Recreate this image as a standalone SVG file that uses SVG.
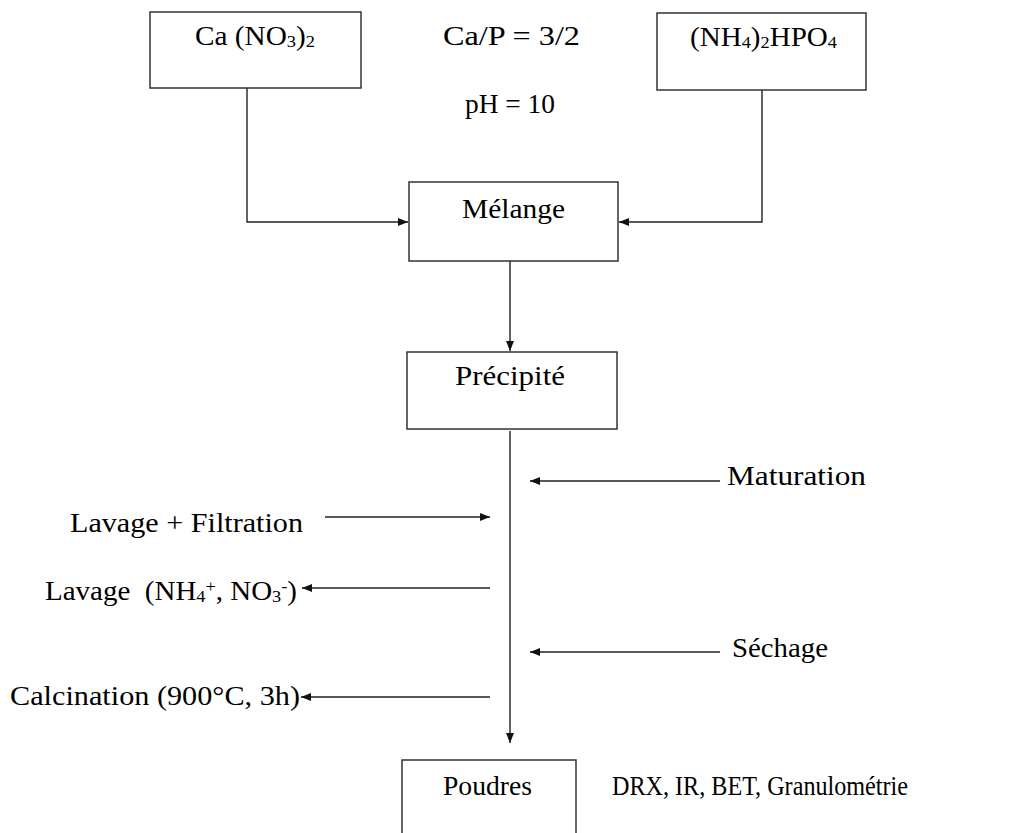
<svg xmlns="http://www.w3.org/2000/svg" width="1012" height="833" viewBox="0 0 1012 833">
<defs>
<style>
.box{fill:#fff;stroke:#333;stroke-width:1.5}
.ln{fill:none;stroke:#222;stroke-width:1.4}
text{font-family:"Liberation Serif","DejaVu Serif",serif;font-size:27px;fill:#000}
.sub{font-size:17px}
</style>
<marker id="ah" viewBox="0 0 10 8" refX="10" refY="4" markerWidth="10" markerHeight="8" markerUnits="userSpaceOnUse" orient="auto">
<path d="M0,0 L10,4 L0,8 Z" fill="#111"/>
</marker>
</defs>
<rect width="1012" height="833" fill="#fff"/>
<g id="connectors">
<path class="ln" d="M247,88 V222 H408" marker-end="url(#ah)"/>
<path class="ln" d="M762,90 V222 H619" marker-end="url(#ah)"/>
<path class="ln" d="M510,261 V351" marker-end="url(#ah)"/>
<path class="ln" d="M510,431 V743" marker-end="url(#ah)"/>
<path class="ln" d="M720,481 H530" marker-end="url(#ah)"/>
<path class="ln" d="M325,517 H490" marker-end="url(#ah)"/>
<path class="ln" d="M490,588 H302" marker-end="url(#ah)"/>
<path class="ln" d="M720,652 H530" marker-end="url(#ah)"/>
<path class="ln" d="M490,697 H301" marker-end="url(#ah)"/>
</g>
<g id="node-cano3">
<rect class="box" x="150" y="12" width="211" height="76"/>
<text x="195" y="45" textLength="120" lengthAdjust="spacingAndGlyphs">Ca (NO<tspan class="sub" dy="2">3</tspan><tspan dy="-2">)</tspan><tspan class="sub" dy="2">2</tspan></text>
</g>
<g id="node-conditions">
<text x="443" y="45" textLength="137" lengthAdjust="spacingAndGlyphs">Ca/P = 3/2</text>
<text x="465" y="113" textLength="90" lengthAdjust="spacingAndGlyphs">pH = 10</text>
</g>
<g id="node-nh4hpo4">
<rect class="box" x="657" y="13" width="209" height="77"/>
<text x="690" y="46" textLength="147" lengthAdjust="spacingAndGlyphs">(NH<tspan class="sub" dy="2">4</tspan><tspan dy="-2">)</tspan><tspan class="sub" dy="2">2</tspan><tspan dy="-2">HPO</tspan><tspan class="sub" dy="2">4</tspan></text>
</g>
<g id="node-melange">
<rect class="box" x="409" y="182" width="209" height="79"/>
<text x="462" y="218" textLength="103" lengthAdjust="spacingAndGlyphs">Mélange</text>
</g>
<g id="node-precipite">
<rect class="box" x="407" y="352" width="210" height="77"/>
<text x="455" y="385" textLength="110" lengthAdjust="spacingAndGlyphs">Précipité</text>
</g>
<g id="node-maturation">
<text x="727" y="485" textLength="139" lengthAdjust="spacingAndGlyphs">Maturation</text>
</g>
<g id="node-lavage-filtration">
<text x="70" y="532" textLength="233" lengthAdjust="spacingAndGlyphs">Lavage + Filtration</text>
</g>
<g id="node-lavage-ions">
<text x="45" y="600" textLength="252" lengthAdjust="spacingAndGlyphs" xml:space="preserve">Lavage  (NH<tspan class="sub" dy="2">4</tspan><tspan class="sub" dy="-10">+</tspan><tspan dy="8">, NO</tspan><tspan class="sub" dy="2">3</tspan><tspan class="sub" dy="-10">-</tspan><tspan dy="8">)</tspan></text>
</g>
<g id="node-sechage">
<text x="732" y="657" textLength="96" lengthAdjust="spacingAndGlyphs">Séchage</text>
</g>
<g id="node-calcination">
<text x="10" y="705" textLength="290" lengthAdjust="spacingAndGlyphs">Calcination (900°C, 3h)</text>
</g>
<g id="node-poudres">
<rect class="box" x="402" y="760" width="174" height="90"/>
<text x="443" y="795" textLength="89" lengthAdjust="spacingAndGlyphs">Poudres</text>
</g>
<g id="node-analyses">
<text x="612" y="795" textLength="296" lengthAdjust="spacingAndGlyphs">DRX, IR, BET, Granulométrie</text>
</g>
</svg>
